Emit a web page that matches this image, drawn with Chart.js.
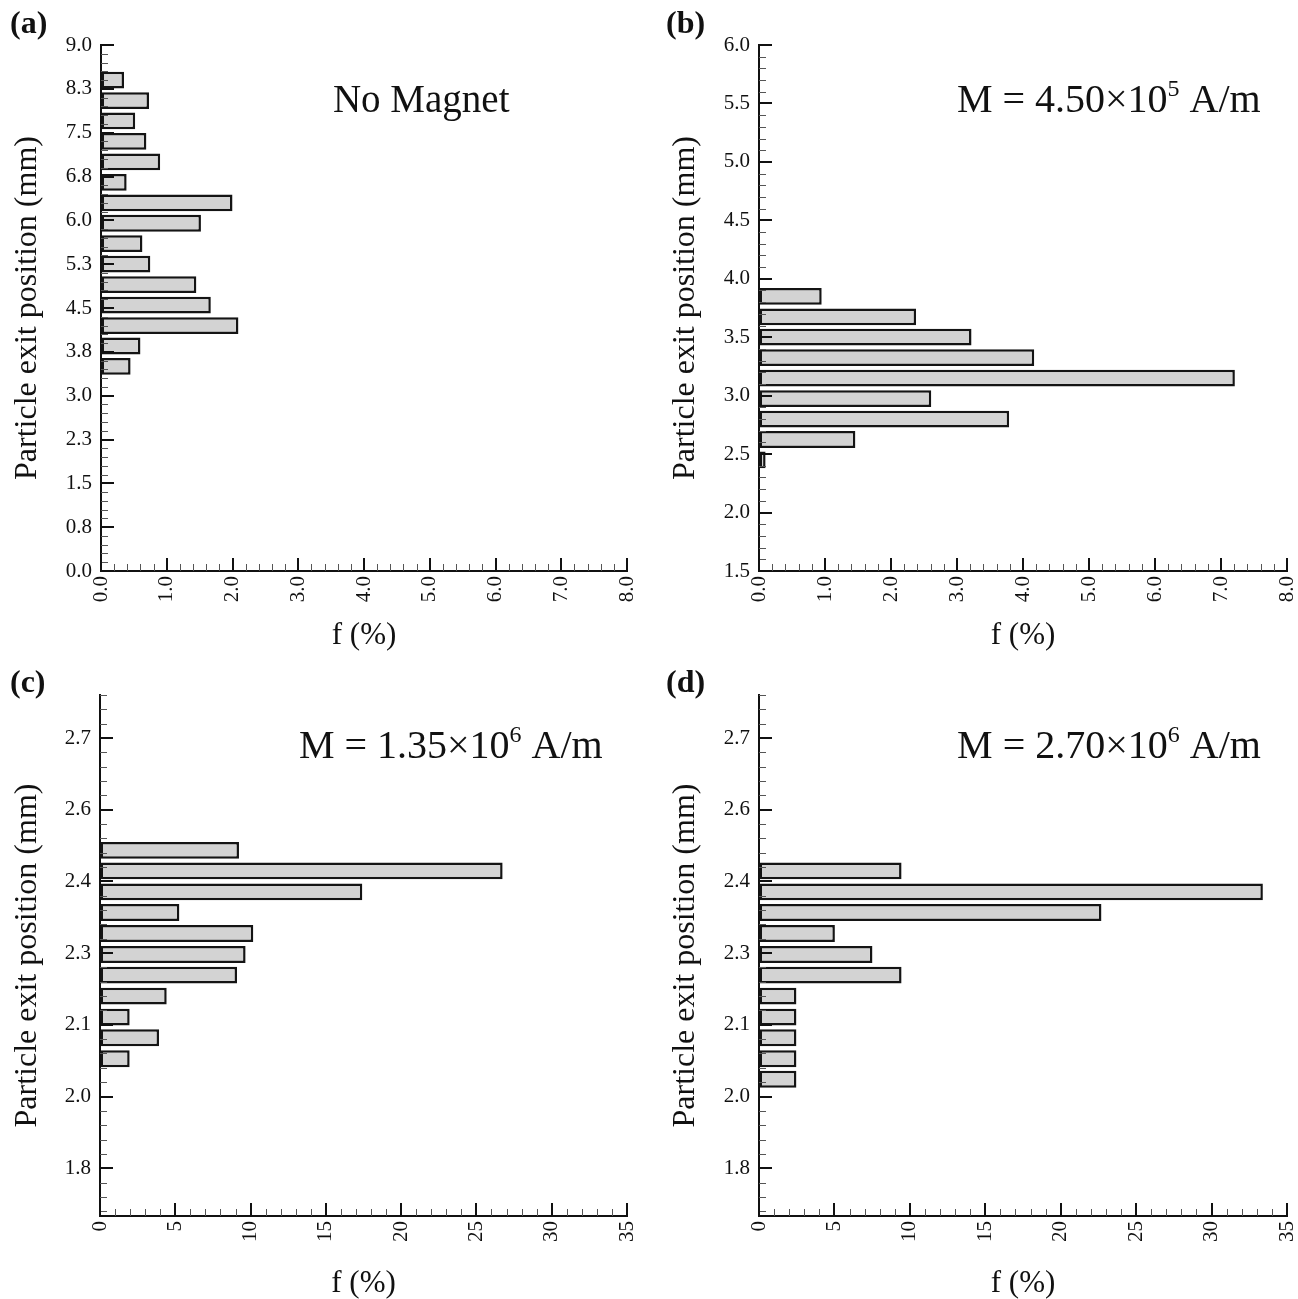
<!DOCTYPE html>
<html>
<head>
<meta charset="utf-8">
<script src="https://cdn.jsdelivr.net/npm/chart.js@4.4.1/dist/chart.umd.min.js"></script>
<style>
  html, body { margin: 0; padding: 0; background: #fff; }
  #page { position: relative; width: 1298px; height: 1299px; }
  canvas { position: absolute; }
</style>
</head>
<body>
<div id="page">
  <canvas id="chart-a" width="640" height="651" style="left:0;top:0"></canvas>
  <canvas id="chart-b" width="640" height="651" style="left:658px;top:0"></canvas>
  <canvas id="chart-c" width="640" height="649" style="left:0;top:650px"></canvas>
  <canvas id="chart-d" width="640" height="649" style="left:658px;top:650px"></canvas>
</div>
<script>
const FONT = "'Liberation Serif', 'Times New Roman', serif";

// (a) no magnet: bin centre (mm) and share of particles (%)
const posA = [3.5, 3.85, 4.2, 4.55, 4.9, 5.25, 5.6, 5.95, 6.3, 6.65, 7.0, 7.35, 7.7, 8.05, 8.4];
const fA = [0.45, 0.60, 2.09, 1.67, 1.45, 0.75, 0.63, 1.52, 2.00, 0.39, 0.90, 0.69, 0.52, 0.73, 0.35];

// (b) M = 4.50e5 A/m
const posB = [2.45, 2.625, 2.8, 2.975, 3.15, 3.325, 3.5, 3.675, 3.85];
const fB = [0.10, 1.46, 3.79, 2.61, 7.21, 4.17, 3.22, 2.38, 0.95];

// (c) M = 1.35e6 A/m
const posC = [2.029, 2.073, 2.116, 2.160, 2.204, 2.247, 2.291, 2.335, 2.378, 2.422, 2.465];
const fC = [1.97, 3.92, 1.97, 4.43, 9.10, 9.67, 10.18, 5.27, 17.42, 26.74, 9.23];

// (d) M = 2.70e6 A/m
const posD = [1.986, 2.029, 2.073, 2.116, 2.160, 2.204, 2.247, 2.291, 2.335, 2.378, 2.422];
const fD = [2.48, 2.48, 2.48, 2.48, 2.48, 9.45, 7.52, 5.03, 22.70, 33.40, 9.45];

// axis ticks and their printed labels
const yTicksA = [0, 0.75, 1.5, 2.25, 3, 3.75, 4.5, 5.25, 6, 6.75, 7.5, 8.25, 9];
const yLabelsA = ['0.0', '0.8', '1.5', '2.3', '3.0', '3.8', '4.5', '5.3', '6.0', '6.8', '7.5', '8.3', '9.0'];
const yTicksB = [1.5, 2, 2.5, 3, 3.5, 4, 4.5, 5, 5.5, 6];
const yLabelsB = ['1.5', '2.0', '2.5', '3.0', '3.5', '4.0', '4.5', '5.0', '5.5', '6.0'];
const yTicksCD = [1.8, 1.95, 2.1, 2.25, 2.4, 2.55, 2.7];
const yLabelsCD = ['1.8', '2.0', '2.1', '2.3', '2.4', '2.6', '2.7'];
const xTicksAB = [0, 1, 2, 3, 4, 5, 6, 7, 8];
const xLabelsAB = ['0.0', '1.0', '2.0', '3.0', '4.0', '5.0', '6.0', '7.0', '8.0'];
const xTicksCD = [0, 5, 10, 15, 20, 25, 30, 35];
const xLabelsCD = ['0', '5', '10', '15', '20', '25', '30', '35'];

// inward major/minor ticks, the M = ... note and the (a)..(d) tag
const frame = {
  id: 'frame',
  afterDatasetsDraw(chart, args, o) {
    const {ctx, chartArea: ca, scales: {x, y}} = chart;
    const line = (x1, y1, x2, y2, w) => {
      ctx.lineWidth = w;
      ctx.beginPath();
      ctx.moveTo(x1, y1);
      ctx.lineTo(x2, y2);
      ctx.stroke();
    };
    const minors = (scale, ticks, step) => {
      const out = [];
      const k0 = Math.ceil((scale.min - ticks[0]) / step - 1e-6);
      const k1 = Math.floor((scale.max - ticks[0]) / step + 1e-6);
      for (let k = k0; k <= k1; k++) out.push(ticks[0] + k * step);
      return out;
    };
    ctx.save();
    ctx.strokeStyle = '#555';
    minors(y, o.yTicks, o.yMinor).forEach(v => {
      const p = Math.round(y.getPixelForValue(v)) + 0.5;
      line(ca.left, p, ca.left + 7, p, 1);
    });
    minors(x, o.xTicks, o.xMinor).forEach(v => {
      const p = Math.round(x.getPixelForValue(v)) + 0.5;
      line(p, ca.bottom, p, ca.bottom - 7, 1);
    });
    ctx.strokeStyle = '#111';
    o.yTicks.forEach(v => {
      const p = Math.round(y.getPixelForValue(v));
      line(ca.left, p, ca.left + 13, p, 2);
    });
    o.xTicks.forEach(v => {
      const p = Math.round(x.getPixelForValue(v));
      line(p, ca.bottom, p, ca.bottom - 13, 2);
    });

    // note, e.g. M = 1.35x10^6 A/m
    ctx.fillStyle = '#111';
    ctx.textBaseline = 'alphabetic';
    ctx.textAlign = 'left';
    let w = 0;
    o.note.parts.forEach(([t, size]) => {
      ctx.font = size + 'px ' + FONT;
      w += ctx.measureText(t).width;
    });
    let cx = x.getPixelForValue(o.note.x) - w / 2;
    const cy = y.getPixelForValue(o.note.y);
    o.note.parts.forEach(([t, size, rise]) => {
      ctx.font = size + 'px ' + FONT;
      ctx.fillText(t, cx, cy - rise);
      cx += ctx.measureText(t).width;
    });

    ctx.font = 'bold 32px ' + FONT;
    ctx.fillText(o.tag.text, o.tag.x, o.tag.y);
    ctx.restore();
  }
};

function makeChart(id, pos, vals, o) {
  return new Chart(document.getElementById(id), {
    type: 'bar',
    data: {
      datasets: [{
        data: pos.map((p, i) => ({x: vals[i], y: p})),
        backgroundColor: '#d3d3d3',
        borderColor: '#141414',
        borderWidth: 2.5,
        borderSkipped: false,
        barPercentage: 0.82,
        categoryPercentage: 1,
      }],
    },
    options: {
      indexAxis: 'y',
      responsive: false,
      animation: false,
      layout: {
        padding: {top: o.top, right: o.right, left: 0, bottom: 0},
      },
      scales: {
        x: {
          type: 'linear',
          min: o.xTicks[0],
          max: o.xTicks[o.xTicks.length - 1],
          afterBuildTicks: s => { s.ticks = o.xTicks.map(v => ({value: v})); },
          afterFit: s => {
            s.height = o.xH;
            s.paddingLeft = 0;
            s.paddingRight = 0;
          },
          grid: {drawOnChartArea: false, drawTicks: false},
          border: {display: true, color: '#111', width: 2},
          ticks: {
            autoSkip: false,
            minRotation: 90,
            maxRotation: 90,
            padding: 5,
            color: '#111',
            font: {family: FONT, size: 21},
            callback: (v, i) => o.xLabels[i],
          },
          title: {
            display: true,
            text: 'f (%)',
            color: '#111',
            font: {family: FONT, size: 31, lineHeight: 1},
            padding: {top: 0, bottom: 0},
          },
        },
        y: {
          type: 'linear',
          offset: false,
          min: o.yMin,
          max: o.yMax,
          afterBuildTicks: s => { s.ticks = o.yTicks.map(v => ({value: v})); },
          afterFit: s => {
            s.width = o.yW;
            s.paddingTop = 0;
            s.paddingBottom = 0;
          },
          grid: {drawOnChartArea: false, drawTicks: false, offset: false},
          border: {display: true, color: '#111', width: 2},
          ticks: {
            autoSkip: false,
            padding: 9,
            color: '#111',
            font: {family: FONT, size: 21},
            callback: (v, i) => o.yLabels[i],
          },
          title: {
            display: true,
            text: 'Particle exit position (mm)',
            color: '#111',
            font: {family: FONT, size: 32, lineHeight: 1},
            padding: {top: 12, bottom: 0},
          },
        },
      },
      plugins: {
        legend: {display: false},
        tooltip: {enabled: false},
        frame: {
          yTicks: o.yTicks, yMinor: o.yMinor,
          xTicks: o.xTicks, xMinor: o.xMinor,
          note: o.note, tag: o.tag,
        },
      },
    },
    plugins: [frame],
  });
}

makeChart('chart-a', posA, fA, {
  top: 45, right: 13, yW: 101, xH: 80,
  yMin: 0, yMax: 9, yTicks: yTicksA, yLabels: yLabelsA, yMinor: 0.15,
  xTicks: xTicksAB, xLabels: xLabelsAB, xMinor: 0.2,
  note: {x: 4.87, y: 7.85, parts: [['No Magnet', 39, 0]]},
  tag: {text: '(a)', x: 10, y: 33},
});

makeChart('chart-b', posB, fB, {
  top: 45, right: 11, yW: 101, xH: 80,
  yMin: 1.5, yMax: 6, yTicks: yTicksB, yLabels: yLabelsB, yMinor: 0.1,
  xTicks: xTicksAB, xLabels: xLabelsAB, xMinor: 0.2,
  note: {x: 5.3, y: 5.426, parts: [['M = 4.50\u00d710', 40, 0], ['5', 24, 16], [' A/m', 40, 0]]},
  tag: {text: '(b)', x: 8, y: 33},
});

makeChart('chart-c', posC, fC, {
  top: 45, right: 13, yW: 100, xH: 83,
  yMin: 1.70, yMax: 2.79, yTicks: yTicksCD, yLabels: yLabelsCD, yMinor: 0.03,
  xTicks: xTicksCD, xLabels: xLabelsCD, xMinor: 1,
  note: {x: 23.3, y: 2.659, parts: [['M = 1.35\u00d710', 40, 0], ['6', 24, 16], [' A/m', 40, 0]]},
  tag: {text: '(c)', x: 10, y: 42},
});

makeChart('chart-d', posD, fD, {
  top: 45, right: 11, yW: 101, xH: 83,
  yMin: 1.70, yMax: 2.79, yTicks: yTicksCD, yLabels: yLabelsCD, yMinor: 0.03,
  xTicks: xTicksCD, xLabels: xLabelsCD, xMinor: 1,
  note: {x: 23.2, y: 2.659, parts: [['M = 2.70\u00d710', 40, 0], ['6', 24, 16], [' A/m', 40, 0]]},
  tag: {text: '(d)', x: 8, y: 42},
});
</script>
</body>
</html>
